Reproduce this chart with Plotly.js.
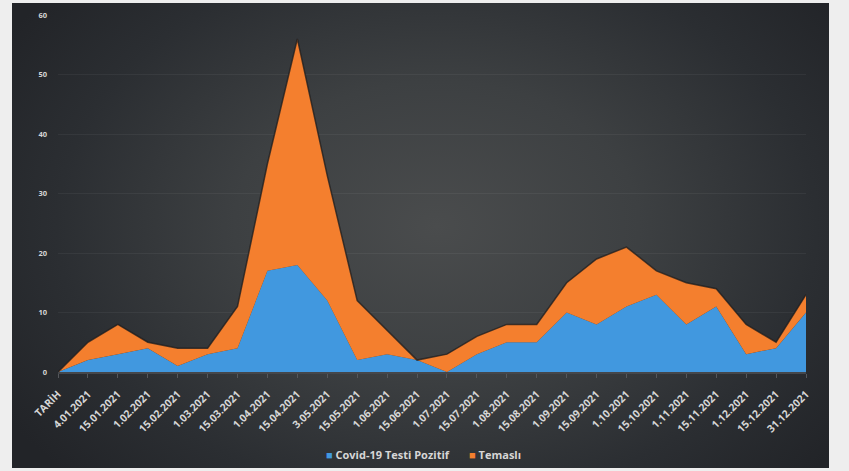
<!DOCTYPE html>
<html>
<head>
<meta charset="utf-8">
<script src="https://cdn.plot.ly/plotly-3.0.1.min.js"></script>
<style>
  html, body { margin: 0; padding: 0; background: #eeeeee; width: 849px; height: 471px; overflow: hidden; }
  #panel { position: absolute; left: 12px; top: 3px; width: 817px; height: 465px;
    background: radial-gradient(ellipse 62% 78% at 52% 48%, #4a4c4d 0%, #3d4042 40%, #2b2e32 75%, #222428 100%); }
  #chart { position: absolute; left: 0; top: 0; width: 849px; height: 471px; }
</style>
</head>
<body>
<div id="panel"></div>
<div id="chart"></div>
<script>
const categories = ["TARİH","4.01.2021","15.01.2021","1.02.2021","15.02.2021","1.03.2021","15.03.2021",
  "1.04.2021","15.04.2021","3.05.2021","15.05.2021","1.06.2021","15.06.2021","1.07.2021","15.07.2021",
  "1.08.2021","15.08.2021","1.09.2021","15.09.2021","1.10.2021","15.10.2021","1.11.2021","15.11.2021",
  "1.12.2021","15.12.2021","31.12.2021"];
const covidPozitif = [0,2,3,4,1,3,4,17,18,12,2,3,2,0,3,5,5,10,8,11,13,8,11,3,4,10];
const temasli      = [0,3,5,1,3,1,7,18,38,21,10,4,0,3,3,3,3,5,11,10,4,7,3,5,1,3];
const seriesNames = ["Covid-19 Testi Pozitif", "Temaslı"];
const yTicks = [0,10,20,30,40,50,60];

const blue = "#4198df";
const orange = "#f47f2e";
const txt = "#d6d6d6";

const traces = [
  { x: categories, y: covidPozitif, name: seriesNames[0], type: "scatter", mode: "none",
    stackgroup: "one", fillcolor: blue, line: {width: 0} },
  { x: categories, y: temasli, name: seriesNames[1], type: "scatter", mode: "lines",
    stackgroup: "one", fillcolor: orange, line: {width: 1.5, color: "rgba(28,28,30,0.75)"} }
];

const legendText =
  '<span style="color:' + blue + '">■</span> ' + seriesNames[0] +
  '&nbsp;&nbsp;&nbsp;&nbsp;&nbsp;&nbsp;&nbsp;<span style="color:' + orange + '">■</span> ' + seriesNames[1];

const layout = {
  width: 849, height: 471,
  paper_bgcolor: "rgba(0,0,0,0)", plot_bgcolor: "rgba(0,0,0,0)",
  margin: {l: 58, r: 43, t: 15, b: 99},
  font: {family: "Open Sans, sans-serif", color: txt},
  showlegend: false,
  xaxis: {
    type: "category", range: [0, categories.length - 1],
    tickangle: -45, tickfont: {size: 10.5, color: txt, weight: 700},
    showline: true, linecolor: "#45474b", linewidth: 2,
    ticks: "outside", ticklen: 4, tickcolor: "#55575b", ticklabelstandoff: 6,
    showgrid: false, zeroline: false, fixedrange: true
  },
  yaxis: {
    range: [0, 60], tickvals: yTicks, ticktext: yTicks.map(String),
    tickfont: {size: 7.5, color: txt, weight: 700},
    showgrid: true, gridcolor: "rgba(255,255,255,0.05)",
    zeroline: false, showline: false, ticks: "", ticklabelstandoff: 10, fixedrange: true
  },
  annotations: [{
    text: legendText, xref: "paper", yref: "paper", x: 0.489, y: -0.23,
    xanchor: "center", yanchor: "middle", showarrow: false,
    font: {size: 11, color: txt, weight: 700}
  }]
};

Plotly.newPlot("chart", traces, layout, {staticPlot: true, displayModeBar: false});
</script>
</body>
</html>
